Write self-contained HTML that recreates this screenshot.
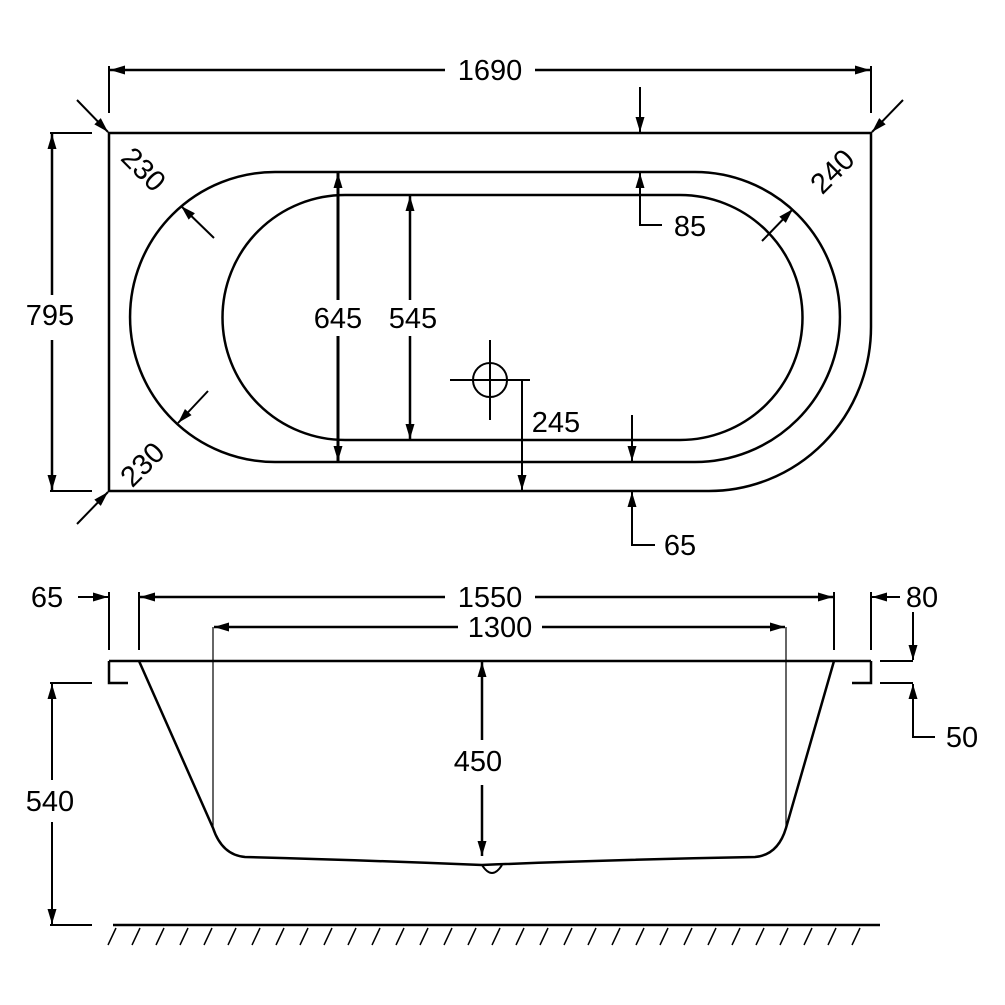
<!DOCTYPE html><html><head><style>body{margin:0;background:#fff}svg{display:block}text{font-family:"Liberation Sans",sans-serif;font-size:29px;fill:#000;text-anchor:middle;dominant-baseline:central}</style></head><body>
<svg width="1005" height="1005" viewBox="0 0 1005 1005" xmlns="http://www.w3.org/2000/svg">
<defs><marker id="a" viewBox="0 0 10 6" refX="10" refY="3" markerWidth="22" markerHeight="9" markerUnits="userSpaceOnUse" orient="auto"><path d="M0 0L10 3L0 6Z"/></marker></defs>
<g fill="none" stroke="#000" stroke-width="2">
<path d="M109 133H871V327A162 164 0 0 1 709 491H109Z" stroke-width="2.5"/>
<path d="M275 172H695A145 145 0 0 1 695 462H275A145 145 0 0 1 275 172Z" stroke-width="2.5"/>
<path d="M345 195H680A122.5 122.5 0 0 1 680 440H345A122.5 122.5 0 0 1 345 195Z" stroke-width="2.5"/>
<path d="M109 113V66M871 113V66"/>
<g marker-end="url(#a)">
<path d="M445 70H110" stroke-width="2.5"/>
<path d="M535 70H870" stroke-width="2.5"/>
<path d="M52 295V134" stroke-width="2.5"/>
<path d="M52 340V490" stroke-width="2.5"/>
<path d="M77 100L108 132"/>
<path d="M77 524L108 492"/>
<path d="M903 100L872 132"/>
<path d="M214 238L181 206"/>
<path d="M208 391L178 423"/>
<path d="M762 241L793 209"/>
<path d="M338 300V173" stroke-width="3"/>
<path d="M338 336V461" stroke-width="3"/>
<path d="M410 300V196" stroke-width="2.5"/>
<path d="M410 336V439" stroke-width="2.5"/>
<path d="M640 87V132"/>
<path d="M662 225H640V173"/>
<path d="M522 380V490"/>
<path d="M632 415V461"/>
<path d="M655 545H632V492"/>
<path d="M445 597H140" stroke-width="2.5"/>
<path d="M535 597H833" stroke-width="2.5"/>
<path d="M458 627H214" stroke-width="2.5"/>
<path d="M542 627H785" stroke-width="2.5"/>
<path d="M78 597H108"/>
<path d="M900 597H872"/>
<path d="M913 612V660"/>
<path d="M935 737H913V684"/>
<path d="M52 780V684"/>
<path d="M52 822V924"/>
<path d="M482 740V662" stroke-width="2.5"/>
<path d="M482 785V856" stroke-width="2.5"/>
</g>
<path d="M50 133H92M50 491H92"/>
<circle cx="490" cy="380" r="17"/>
<path d="M450 380H530M490 340V420M482 380H498M490 372V388"/>
<path d="M109 661H871M109 661V683H128M871 661V683H852" stroke-width="2.5"/>
<path d="M139 661L213 828Q222 855 245 857Q360 860 482 865Q600 860 755 857Q778 855 786 828L834 661" stroke-width="2.5"/>
<path d="M482 865q5 8 10 8q5 0 10-8"/>
<path d="M109 592V650M139 592V650M834 592V650M871 592V650"/>
<path d="M213 627V828M786 627V828" stroke-width="1.2"/>
<path d="M880 661H913M880 683H913"/>
<path d="M50 683H92M50 925H92"/>
<path d="M113 925H880" stroke-width="2.5"/>
<path d="M116 928l-8 17M140 928l-8 17M164 928l-8 17M188 928l-8 17M212 928l-8 17M236 928l-8 17M260 928l-8 17M284 928l-8 17M308 928l-8 17M332 928l-8 17M356 928l-8 17M380 928l-8 17M404 928l-8 17M428 928l-8 17M452 928l-8 17M476 928l-8 17M500 928l-8 17M524 928l-8 17M548 928l-8 17M572 928l-8 17M596 928l-8 17M620 928l-8 17M644 928l-8 17M668 928l-8 17M692 928l-8 17M716 928l-8 17M740 928l-8 17M764 928l-8 17M788 928l-8 17M812 928l-8 17M836 928l-8 17M860 928l-8 17" stroke-width="1.5"/>
</g>
<text x="490" y="71">1690</text>
<text x="50" y="316">795</text>
<text x="143" y="170" transform="rotate(45 143 170)">230</text>
<text x="143" y="465" transform="rotate(-45 143 465)">230</text>
<text x="833" y="172" transform="rotate(-45 833 172)">240</text>
<text x="338" y="319">645</text>
<text x="413" y="319">545</text>
<text x="690" y="227">85</text>
<text x="556" y="423">245</text>
<text x="680" y="546">65</text>
<text x="47" y="598">65</text>
<text x="490" y="598">1550</text>
<text x="500" y="628">1300</text>
<text x="922" y="598">80</text>
<text x="962" y="738">50</text>
<text x="50" y="802">540</text>
<text x="478" y="762">450</text>
</svg></body></html>
